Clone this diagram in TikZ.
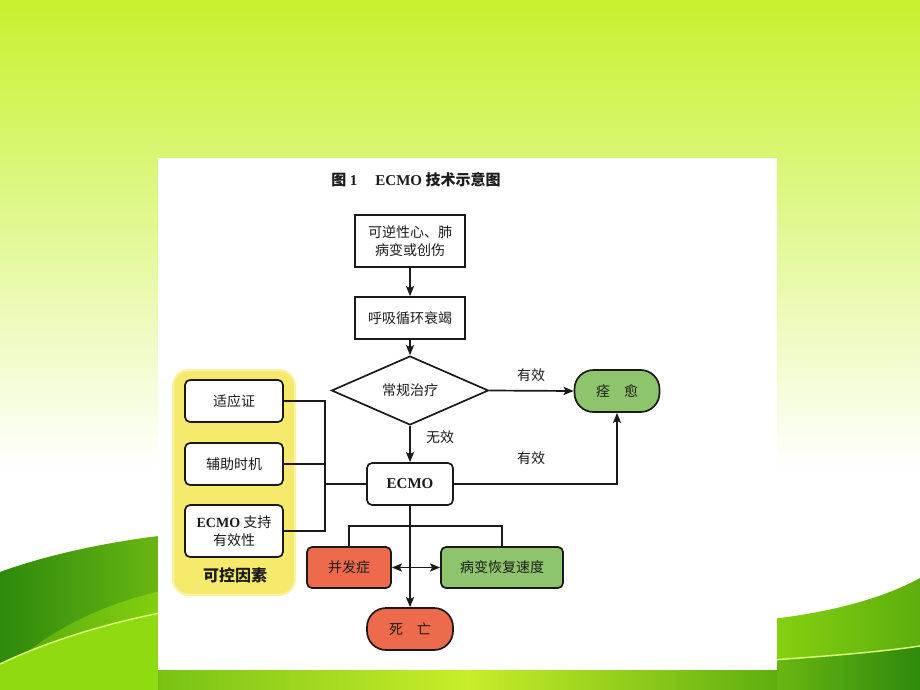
\documentclass[tikz,border=0pt]{standalone}
\usepackage{fontspec}
\setmainfont{Liberation Serif}
\newfontfamily\cjk{Noto Sans CJK SC}
\usetikzlibrary{shapes.geometric,arrows.meta}
\definecolor{bgtop}{HTML}{C6F22E}
\definecolor{wdark}{HTML}{2E8A0C}
\definecolor{wmid}{HTML}{5DAE0E}
\definecolor{wmidb}{HTML}{78C214}
\definecolor{wlight}{HTML}{8FDA10}
\definecolor{whl}{HTML}{D9F57A}
\definecolor{wbright}{HTML}{C9EE2A}
\definecolor{linec}{HTML}{1A1A1A}
\definecolor{txt}{HTML}{1C1C1C}
\definecolor{greenf}{HTML}{8DC46C}
\definecolor{redf}{HTML}{EE6A4C}
\definecolor{yelf}{HTML}{F6EA6C}
\definecolor{yelr}{HTML}{FAF2A6}
\begin{document}
\begin{tikzpicture}[x=1pt,y=-1pt,
  base/.style={draw=linec, line width=1.7pt, text=txt, align=center, inner sep=0pt,
    font=\cjk\fontsize{14}{18}\selectfont},
  sqbox/.style={base, fill=white},
  rbox/.style={base, fill=white, rounded corners=5pt},
  stad/.style={base, rounded corners=19pt},
  lbl/.style={text=txt, inner sep=0pt, font=\cjk\fontsize{14}{18}\selectfont},
  conn/.style={draw=linec, line width=1.7pt},
  arr/.style={conn, -{Stealth[length=10pt,width=8pt,inset=2pt]}},
  darr/.style={conn, {Stealth[length=10pt,width=8pt,inset=2pt]}-{Stealth[length=10pt,width=8pt,inset=2pt]}}]
\useasboundingbox (0,0) rectangle (920,690);
% background
\shade[top color=bgtop, bottom color=white] (0,0) rectangle (920,470);
\fill[white] (0,469) rectangle (920,690);
% left wave
\shade[left color=wdark, right color=wmidb] (0,572) .. controls (60,550) and (140,536) .. (200,532) -- (200,690) -- (0,690) -- cycle;
\shade[left color=wmid, right color=wlight] (30,650) .. controls (80,612) and (140,592) .. (200,584) -- (200,690) -- (30,690) -- cycle;
\fill[wlight] (0,664) .. controls (50,640) and (120,618) .. (200,606) -- (200,690) -- (0,690) -- cycle;
\draw[whl, line width=1.5pt] (0,664) .. controls (50,640) and (120,618) .. (200,606);
% right wave
\shade[left color=wlight, right color=wmid] (740,622) .. controls (820,616) and (880,600) .. (920,578) -- (920,690) -- (740,690) -- cycle;
\shade[left color=wmidb, right color=wdark] (740,662) .. controls (820,657) and (880,652) .. (920,646) -- (920,690) -- (740,690) -- cycle;
\draw[whl, line width=1.5pt] (740,662) .. controls (820,657) and (880,652) .. (920,646);
% bottom strip
\shade[left color=wmidb, right color=wmid, middle color=wbright] (158,664) rectangle (777,690);
% panel
\fill[white] (158,158) rectangle (777,670);
% title
\node[inner sep=0pt, text=txt, font=\cjk\bfseries\fontsize{15}{18}\selectfont] (title) at (416,180)
  {图 {\rmfamily 1}\hspace{1.2em}{\rmfamily ECMO} 技术示意图};
% yellow panel
\node[fill=yelf, draw=yelr, line width=2pt, rounded corners=16pt, minimum width=122pt, minimum height=225pt, inner sep=0pt] (ctrl) at (234,482.5) {};
\node[inner sep=0pt, text=txt, font=\cjk\bfseries\fontsize{16}{19}\selectfont] (ctrlt) at (235,575) {可控因素};
% nodes
\node[sqbox, minimum width=110pt, minimum height=52pt] (rev) at (410,241) {可逆性心、肺\\病变或创伤};
\node[sqbox, minimum width=110pt, minimum height=42pt] (resp) at (410,318) {呼吸循环衰竭};
\node[base, fill=white, shape=diamond, minimum width=157pt, minimum height=61pt] (diam) at (410,390.5) {常规治疗};
\node[stad, fill=greenf, minimum width=85pt, minimum height=42pt] (cure) at (617,391) {痊\hspace{1em}愈};
\node[rbox, minimum width=86pt, minimum height=42pt] (ecmo) at (410,484) {\rmfamily\bfseries\fontsize{15}{18}\selectfont ECMO};
\node[rbox, minimum width=98pt, minimum height=42pt] (ind) at (234,401) {适应证};
\node[rbox, minimum width=98pt, minimum height=42pt] (tim) at (234,464) {辅助时机};
\node[rbox, minimum width=98pt, minimum height=52pt] (eff) at (234,531) {{\rmfamily\bfseries ECMO} 支持\\有效性};
\node[rbox, fill=redf, minimum width=84pt, minimum height=41pt] (comp) at (349,567.5) {并发症};
\node[rbox, fill=greenf, minimum width=122pt, minimum height=41pt] (recov) at (502,567.5) {病变恢复速度};
\node[stad, fill=redf, minimum width=86pt, minimum height=42pt] (death) at (410,629) {死\hspace{1em}亡};
% labels
\node[lbl] (l1) at (531,375) {有效};
\node[lbl] (l2) at (440,437) {无效};
\node[lbl] (l3) at (531,458) {有效};
% coordinates
\coordinate (j1) at (325,401);
\coordinate (j2) at (325,464);
\coordinate (j3) at (325,531);
\coordinate (jm) at (325,484);
\coordinate (bm) at (410,526);
% connectors
\draw[arr] (rev) -- (resp);
\draw[arr] (resp) -- (diam);
\draw[arr] (diam.south) -- (ecmo.north);
\draw[arr] (diam.east) -- (cure.west);
\draw[arr] (ecmo.east) -| (cure.south);
\draw[conn] (ind.east) -- (j1) -- (j3) -- (eff.east);
\draw[conn] (tim.east) -- (j2);
\draw[conn] (jm) -- (ecmo.west);
\draw[conn] (comp.north) |- (bm) -| (recov.north);
\draw[darr] (comp.east) -- (recov.west);
\draw[arr] (ecmo.south) -- (death.north);
\end{tikzpicture}
\end{document}
